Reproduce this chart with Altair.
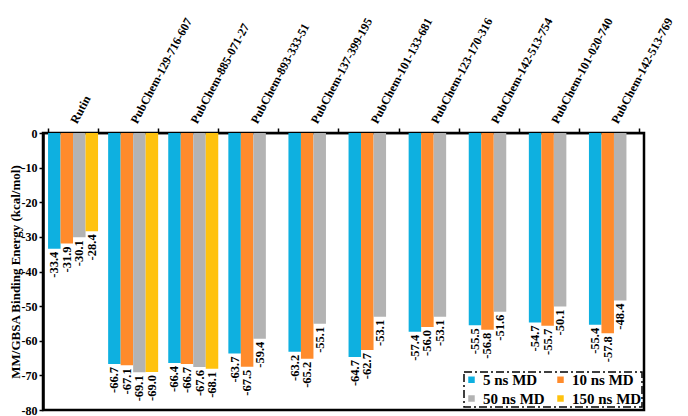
import altair as alt
import pandas as pd

compounds = ["Rutin", "PubChem-129-716-607", "PubChem-885-071-27", "PubChem-893-333-51",
             "PubChem-137-399-195", "PubChem-101-133-681", "PubChem-123-170-316",
             "PubChem-142-513-754", "PubChem-101-020-740", "PubChem-142-513-769"]
series = ["5 ns MD", "10 ns MD", "50 ns MD", "150 ns MD"]
md5 = [-33.4, -66.7, -66.4, -63.7, -63.2, -64.7, -57.4, -55.5, -54.7, -55.4]
md10 = [-31.9, -67.1, -66.7, -67.5, -65.2, -62.7, -56.0, -56.8, -55.7, -57.8]
md50 = [-30.1, -69.1, -67.6, -59.4, -55.1, -53.1, -53.1, -51.6, -50.1, -48.4]
md150 = [-28.4, -69.0, -68.1, None, None, None, None, None, None, None]
y_ticks = [0, -10, -20, -30, -40, -50, -60, -70, -80]
colors = ["#0EB0E0", "#FF8B2C", "#B3B3B3", "#FFC20E"]

rows = []
for s, vals in zip(series, [md5, md10, md50, md150]):
    for c, v in zip(compounds, vals):
        if v is not None:
            rows.append({"compound": c, "series": s, "value": v, "label": f"{v:.1f}"})
df = pd.DataFrame(rows)

FONT = "Liberation Serif"

x = alt.X("compound:N", sort=compounds,
          scale=alt.Scale(paddingInner=0.168, paddingOuter=0.084),
          axis=alt.Axis(orient="top", title=None, labelAngle=-62, labelAlign="left",
                        labelBaseline="middle", labelPadding=6, tickBand="extent",
                        tickSize=5, tickColor="black", domainColor="black",
                        domainWidth=1.5, tickWidth=1.5, labelFont=FONT,
                        labelFontWeight="bold", labelFontSize=12, labelColor="black",
                        labelOverlap=False))
xo = alt.XOffset("series:N", sort=series, scale=alt.Scale(domain=series))
y = alt.Y("value:Q", scale=alt.Scale(domain=[-80, 0], nice=False),
          axis=alt.Axis(title="MM/GBSA Binding Energy (kcal/mol)", values=y_ticks,
                        grid=False, labelExpr="'' + datum.value", tickSize=4,
                        tickColor="black", domainColor="black", domainWidth=2.5,
                        tickWidth=1.5, labelFont=FONT, labelFontWeight="bold",
                        labelFontSize=12, labelColor="black", labelPadding=2,
                        labelOverlap=False,
                        titleFont=FONT, titleFontWeight="bold", titleFontSize=13,
                        titleColor="black", titleX=-21, titleBaseline="bottom"))

bars = alt.Chart(df).mark_bar().encode(
    x=x, xOffset=xo, y=y,
    color=alt.Color("series:N", sort=series,
                    scale=alt.Scale(domain=series, range=colors),
                    legend=alt.Legend(title=None, orient="none", legendX=421, legendY=239,
                                      columns=2, direction="horizontal",
                                      symbolType="square", symbolSize=42,
                                      symbolStrokeWidth=0, labelFont=FONT,
                                      labelFontWeight="bold", labelFontSize=15,
                                      labelColor="black", columnPadding=8,
                                      rowPadding=3, padding=0, labelOffset=4))
)

text = alt.Chart(df).mark_text(angle=270, align="right", baseline="middle", dx=-3,
                               font=FONT, fontWeight="bold", fontSize=12.5,
                               color="black").encode(
    x=x, xOffset=xo, y=y, text="label:N"
)

chart = alt.layer(bars, text).properties(
    width=601, height=277,
    autosize=alt.AutoSizeParams(type="none"),
    padding={"left": 35, "top": 125, "right": 36, "bottom": 8},
).configure_view(stroke="black", strokeWidth=2.5).configure_legend(
    strokeColor="black", strokeDash=[8, 3, 2, 3], strokeWidth=1.5
)

chart.save("out.html", embed_options={"renderer": "svg", "actions": False})
